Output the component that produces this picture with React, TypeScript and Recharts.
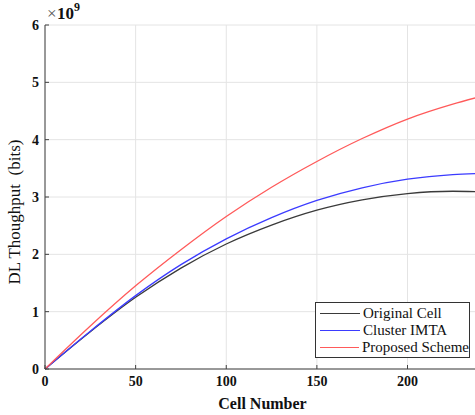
import { LineChart, Line, XAxis, YAxis, CartesianGrid } from 'recharts';

// cell number (x) and throughput in units of 1e9 bits
const cells = [0, 25, 50, 75, 100, 125, 150, 175, 200, 225, 240];
const originalCell = [0, 0.65, 1.25, 1.76, 2.18, 2.51, 2.77, 2.95, 3.06, 3.1, 3.09];
const clusterImta = [0, 0.66, 1.28, 1.82, 2.27, 2.64, 2.94, 3.16, 3.31, 3.39, 3.41];
const proposedScheme = [0, 0.75, 1.45, 2.08, 2.66, 3.17, 3.62, 4.02, 4.36, 4.62, 4.75];

const xTicks = [0, 50, 100, 150, 200];
const yTicks = [0, 1, 2, 3, 4, 5, 6];

const series = [
  { key: 'original', name: 'Original Cell', color: '#3a3a3a' },
  { key: 'cluster', name: 'Cluster IMTA', color: '#3b3bff' },
  { key: 'proposed', name: 'Proposed Scheme', color: '#ff5a5a' },
];

const data = cells.map((c, i) => ({
  cell: c,
  original: originalCell[i],
  cluster: clusterImta[i],
  proposed: proposedScheme[i],
}));

const font = "'Liberation Serif', 'Times New Roman', serif";
const tickStyle = { fill: '#111', fontSize: 14, fontWeight: 700, fontFamily: font };

export default function App() {
  return (
    <div
      style={{
        position: 'fixed',
        left: 0,
        top: 0,
        width: 475,
        height: 415,
        overflow: 'hidden',
        background: '#fff',
        fontFamily: font,
      }}
    >
      <LineChart
        width={495}
        height={415}
        data={data}
        margin={{ top: 25, right: 15, bottom: 0, left: 0 }}
      >
        <CartesianGrid stroke="#e4e4e4" strokeWidth={1} />
        <XAxis
          dataKey="cell"
          type="number"
          domain={[0, 240]}
          ticks={xTicks}
          height={46}
          stroke="#404040"
          tickSize={-4}
          tickMargin={11}
          tick={tickStyle}
          label={{
            value: 'Cell Number',
            position: 'insideBottom',
            offset: 6,
            style: { fill: '#111', fontSize: 16, fontWeight: 700, fontFamily: font },
          }}
        />
        <XAxis
          xAxisId="top"
          orientation="top"
          type="number"
          domain={[0, 240]}
          ticks={xTicks}
          height={0}
          stroke="#404040"
          tickSize={-4}
          tick={false}
        />
        <YAxis
          type="number"
          domain={[0, 6]}
          ticks={yTicks}
          width={45}
          stroke="#404040"
          tickSize={-4}
          tickMargin={10}
          tick={tickStyle}
        />
        {series.map((s) => (
          <Line
            key={s.key}
            dataKey={s.key}
            name={s.name}
            type="monotone"
            stroke={s.color}
            strokeWidth={1.3}
            dot={false}
            isAnimationActive={false}
          />
        ))}
      </LineChart>

      {/* y axis title */}
      <div
        style={{
          position: 'absolute',
          left: 15,
          top: 212,
          transform: 'translate(-50%, -50%) rotate(-90deg)',
          whiteSpace: 'pre',
          fontSize: 17,
          color: '#111',
        }}
      >
        {'DL Thoughput  (bits)'}
      </div>

      {/* exponent */}
      <div style={{ position: 'absolute', left: 47, top: 4, height: 20, color: '#111', whiteSpace: 'nowrap' }}>
        <span style={{ fontSize: 17, color: '#555', position: 'absolute', left: 0, top: 0 }}>×</span>
        <span style={{ fontSize: 17, fontWeight: 700, position: 'absolute', left: 10, top: 0 }}>10</span>
        <span style={{ fontSize: 12, fontWeight: 700, position: 'absolute', left: 27, top: -4 }}>9</span>
      </div>

      {/* legend */}
      <div
        style={{
          position: 'absolute',
          left: 315,
          top: 302,
          width: 155,
          height: 56,
          border: '1px solid #333',
          background: '#fff',
          boxSizing: 'border-box',
          padding: '2px 0 0 4px',
        }}
      >
        {series.map((s) => (
          <div key={s.key} style={{ display: 'flex', alignItems: 'center', height: 17 }}>
            <div style={{ width: 40, height: 0, borderTop: `1.5px solid ${s.color}`, marginRight: 3 }} />
            <span style={{ fontSize: 15, color: '#111', whiteSpace: 'nowrap' }}>{s.name}</span>
          </div>
        ))}
      </div>
    </div>
  );
}
